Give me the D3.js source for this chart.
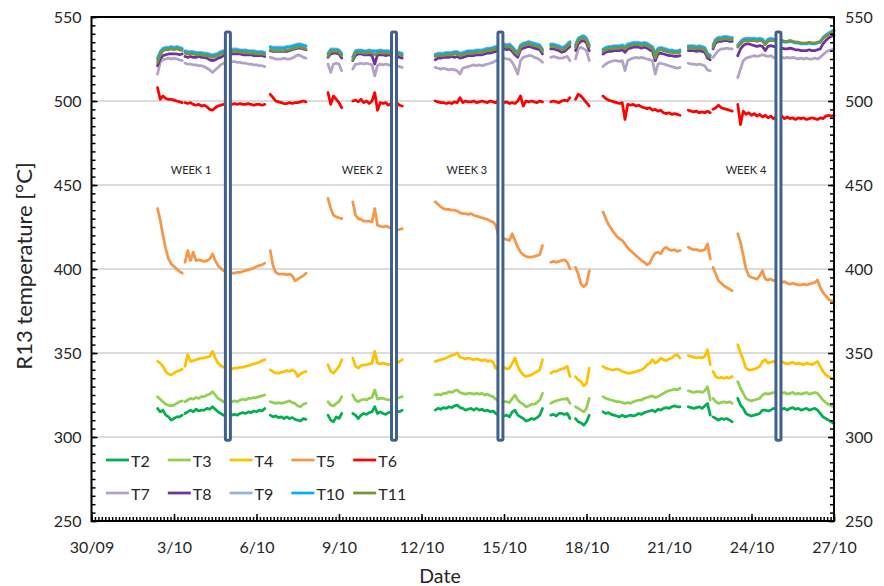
<!DOCTYPE html>
<html>
<head>
<meta charset="utf-8">
<script src="https://cdn.jsdelivr.net/npm/d3@7"></script>
<style>
  body { margin: 0; background: #fff; }
  svg { display: block; }
  text { font-family: Lato, "Noto Sans", sans-serif; fill: #262626; }
</style>
</head>
<body>
<svg id="chart" width="884" height="586"></svg>
<script>
// Logging segments: start day (days after 30/09 00:00), readings every 0.1 day
const segStart = [2.4, 3.4, 6.5, 8.6, 9.5, 12.5, 16.7, 17.6, 18.6, 21.7, 22.6, 23.5];
const step = 0.1;

const T2 = [
  [317,315,316,313,312,310,311,312,312,313],
  [314,315,316,315,316.5,315.5,316,316,317,316.5,318,316.5,315,314,313,312.5,313.5,313,313.5,313,314,314.5,314,315,314.5,315.5,315,316,315.5,317],
  [313,312,312.5,311.5,312,311,312,311,311.5,310.5,310,309.5,311,310.5],
  [313,310,309,312,311,314],
  [314,313,311,313,314,313.5,314.5,315,318,314,315,314,313.5,314.5,315,314,315.5,315,316],
  [316,317,316.5,317.5,317,318,317.5,318.5,319,317.5,317,316,316.5,317,316,317,316,316.5,315.5,316,315,315.5,314,313,313.5,312.5,313,312,315,316,313,312,311,309.5,310,311,310.5,311.5,313,317],
  [313,313.5,312.5,314,314,313.5,314,311],
  [311,309,308.5,307,309,313],
  [315,314,314.5,313.5,313,312.5,312,313,312,312.5,313,312.5,313,314,313.5,314.5,315,315.5,316,315,316.5,316,317,317.5,317,318,318.5,318,318],
  [318,317.5,317,317.5,318,317,318.5,320,313],
  [312,311,310,311,310.5,311,310,309],
  [323,319,317,314,313,312.5,313,313.5,314,316,316,315.5,316,317,316.5,317,316.5,317,316,317,317.5,316.5,317,316,316.5,317,316,316.5,317,316,314,312,311,310,309,308]
];
const T3 = [
  [324,322.5,321,319.5,319,318.5,319,320,321,321.5],
  [321,322,323,322.5,323.5,323,324,324,325,325.5,327,325,323,322,321,320.5,321,321,321.5,321,322,322.5,322,323,323,323.5,323.5,324,324.5,325],
  [321,320.5,320,320.5,320,320.5,321,321.5,320.5,320,318.5,318,319.5,320],
  [321,319,318.5,320,321,324],
  [325,322,321,322,322.5,322,323,323.5,328,322.5,323,323,322.5,322,322.5,322,323,323.5,324],
  [325,325.5,325,326,326,327,326.5,327.5,328,326.5,326,325.5,326,326,325.5,326,325.5,326,325,325.5,324.5,324,322.5,321.5,321.5,321,321,320.5,323,325,322,320.5,319.5,318,318.5,319.5,319.5,320.5,322,326],
  [320,321,321.5,322,322.5,322.5,323,320],
  [318,317,316,315,317,323],
  [324,323,322.5,322,321.5,321,321,320.5,320,320.5,320,321,321.5,322,322,323,323.5,324,324.5,323.5,324,325,326,327,327.5,328,328.5,328,329],
  [327.5,327,326.5,327,327,326.5,327.5,330,322],
  [323,321,320,320.5,321,320.5,321,320],
  [333,329,326,323,322,321.5,322,322.5,323,325,326,325.5,326,326.5,326,326.5,326,326.5,325.5,326,326.5,325.5,326,325.5,326,326.5,325.5,326,326.5,326,324,322,320.5,319.5,318.5,318]
];
const T4 = [
  [345,344,342,339,337.5,337,338,339,339.5,340.5],
  [342,349,345,345.5,346,346.5,347,347,347.5,348,351,347,344,342.5,341.5,341,340.5,340.5,341,341,341.5,341.5,342,342.5,343,343.5,344,344.5,345.5,346],
  [340,339,338,338,338.5,339,339.5,339,340,339,336,337.5,338.5,339],
  [343,339,338,340,342,346],
  [347,342,341,342.5,343,343,343.5,344,351,344,343.5,344,343.5,343,343.5,343,344,345,346],
  [345,345.5,346,346.5,347,348,348.5,349,350,347.5,347,346.5,347,346.5,346,346.5,346,345.5,346,345,345.5,344.5,341,340.5,341,341.5,340.5,341,344,347,342,339,337,336,336.5,337,338,339,340,346],
  [338,339,339,340,340.5,341,342,336],
  [336,334,333,330.5,332,341],
  [342,341,340.5,340,340,340.5,340,339,338.5,338,338,338.5,339,339.5,340,341,343,344,346,344,345,347,346,345.5,346.5,347,348.5,349,347],
  [348.5,348,347.5,347,347.5,347,348,352,343],
  [339,336,335,335.5,335,335.5,335,336],
  [355,350,346,341,340,340,340.5,341,342,345,346,344,344.5,345,344,344.5,345,344,343.5,344,344.5,343.5,344,343.5,343,344,343.5,343,344,345,342,339,337,336,335,334]
];
const T5 = [
  [436,429,420,412,406,403,401.5,400,398.5,397.5],
  [404,411,405,410,405,405.5,405,404.5,405,406,409,405,402,400.5,399,398,397.5,397.5,397.5,398,398,398.5,399,399.5,400,400.5,401.5,402,402.5,403.5],
  [411,402,398,397,397,397,396.5,397,396,393,394,395,396,397.5],
  [442,436,432,431,430.5,430],
  [440,432,430,429.5,428.5,428.5,428.5,428,436,426,425.5,425,425.5,425,424,423.5,423.5,423.5,424],
  [440,438.5,437,436,435.5,435.5,435,435,434.5,433.5,433,433,432.5,433,432,431.5,431,430.5,430,429.5,428.5,428,426,420,419,418,417.5,417,421,417,413,410,408.5,407.5,407,407,407.5,408,408.5,414],
  [404,404.5,404,404.5,405,405.5,404,400],
  [401,397,391,389.5,391,399],
  [434,430,426.5,424,421.5,419.5,418,417,415,412.5,411,409.5,408,406.5,405,404,402.5,403.5,407,409.5,410,409,412,413,411.5,411,411.5,410.5,411],
  [413,412,411.5,411.5,411,411,411.5,415,406],
  [401,397,393,391.5,390,389,388,387],
  [421,416,408,400,396,395,394.5,394,396,399,394,393.5,394,393,393.5,393,392,392.5,391.5,391,391.5,391,390.5,390.5,391,390.5,391,391.5,392,393.5,389,386,384,382,381,381]
];
const T6 = [
  [508,501,503,501.5,501,501,500.5,500,499.5,499],
  [499,498.5,499,498,497.5,498,497,497.5,496.5,495,494.5,496,497,497.5,498,498.5,498.5,498,498.5,498,498.5,498,498,498.5,498,497.5,498,498,497.5,498],
  [504,502,500,499.5,499,498.5,498.5,499,498.5,499,499,499.5,500,499.5],
  [505,498,503,501,499,496],
  [500,500.5,499.5,501,499,500,498.5,500,505,494.5,499,498.5,499,497.5,498.5,498,499,497.5,497],
  [500,499.5,499,499,498.5,499,498.5,499.5,499,502,499,500,499.5,499.5,500,499,499.5,500,499.5,499,500,499.5,499,500.5,499.5,499,499.5,498.5,499,498.5,500,503,497,500,499.5,500,499.5,499,500,499.5],
  [499.5,500,499.5,499,500,500.5,500,502],
  [501,504,503,501,499,497],
  [503,501.5,500.5,500,499.5,499,498.5,499,489,498,497.5,498,497,497.5,496.5,496,495.5,496,494.5,495,494,494.5,493,492.5,493,492,492.5,492,491.5],
  [494.5,494,493.5,494,493,493.5,493,494,493],
  [495,496,497.5,496,495.5,495,494.5,494],
  [498,486,494,492,493,491.5,492.5,491,492,490.5,491.5,490,491,489.5,490.5,490,491,489.5,490.5,489.5,490,489,490,489.5,490,489,489.5,490,489.5,489,490,489.5,491,491.5,491,491.5]
];
const T7 = [
  [516,523,524.5,525,525.5,525,525.5,525,524.5,524],
  [522.5,522,522,521.5,521.5,521,521,520.5,519.5,518.5,517,518.5,520,521.5,522.5,523,523.5,523.5,523.5,523,523,522.5,522.5,522,522,521.5,521.5,521,521,520.5],
  [526,525.5,525,525,525,525.5,525,525,525.5,526.5,527.5,527,526,525.5],
  [522,517,522,522.5,522,518],
  [519,522,522,522.5,522,522.5,522,521.5,515,521,522,521.5,522,521.5,521,521.5,521,520.5,520],
  [520,519.5,519,519.5,519,518.5,519,518.5,518,516,519.5,520,520.5,521,521.5,521,521.5,521,521.5,522,522.5,523,524,524.5,525,525.5,525,525,523,520,516,524,526,526.5,527,527,526,525.5,524.5,523],
  [526,526.5,526,525.5,525.5,526,526.5,524],
  [525,531,532,531,530,524],
  [520.5,522,523,523.5,524,524,523.5,524,518,524,525,525.5,526,525.5,526,525.5,525,524.5,524,516,522,522.5,522,521.5,521,520.5,520,519.5,520],
  [522.5,522,522,521.5,522,521.5,521,518.5,518],
  [526,528,530,531,531,531.5,531,531],
  [514,519,524,525.5,526,526.5,527,526.5,527,527.5,527,526.5,527,526,525.5,526,526,525.5,526,525.5,526,525.5,525,525.5,525,525.5,525,525,525.5,525,526,527.5,529,530,530.5,531]
];
const T8 = [
  [521,525,527,527.5,528,528,528,528,527.5,528],
  [526.5,526,526.5,526,526,526.5,526,526,525.5,524.5,524,524.5,525.5,526,527,527.5,528,528,528,528,528,527.5,527.5,527.5,527.5,527,527,527,527,526.5],
  [530,529.5,529.5,529.5,529.5,529.5,529.5,530,530.5,531,531.5,531.5,531,530.5],
  [526,528,528.5,528.5,528,525.5],
  [524,527,528,528,527.5,527.5,527.5,527,522,527.5,527.5,527.5,527,527.5,527,527,526.5,526,525.5],
  [524.5,525.5,525.5,526,526,526,526.5,526,526.5,525.5,526,526.5,527,527,527,527.5,527.5,527.5,528,528.5,528.5,529,529.5,530,530.5,531,530.5,531,529.5,527.5,526,530.5,531.5,532,532.5,532,531.5,531,530.5,528],
  [531,531,530.5,530,529,529.5,531,532.5],
  [530,534,535.5,536,534.5,530],
  [528,529,529.5,529.5,530,530,530,530.5,529,531,531.5,532,532,532,531.5,532,531.5,530.5,529.5,524,528,528.5,528,527.5,527,527,526.5,526.5,527],
  [530,530,530,529.5,530,529.5,529,525.5,524.5],
  [531,534.5,535.5,535.5,536,536,535.5,535.5],
  [527,531,533,534,534,533.5,533,532.5,533,532.5,530,532.5,533,532.5,532,531.5,531.5,531,531,531.5,531,530.5,530.5,530,530,530,530.5,530,530,530.5,531,534,536,537.5,538.5,539]
];
const T9 = [
  [525.5,529.5,531.5,532,532,532.5,532,532.5,532,531.5],
  [530,529.5,529.5,529.5,529,529,529,528.5,528.5,528,527.5,528,528.5,529.5,530,530.5,531,531,531,531,530.5,530.5,530.5,530,530,530,529.5,529.5,529.5,529],
  [532.5,532,532,532,532,532,532.5,532.5,533,533.5,534,534,533.5,533],
  [528.5,531,531,531,530.5,528.5],
  [526.5,530,530.5,530.5,530,530,530.5,530,530,530,530.5,530,530,530,529.5,529.5,529.5,529,528.5],
  [528,528.5,528.5,528.5,529,529,529,529.5,529.5,528.5,529,529.5,530,530,530,530.5,530.5,530.5,531,531.5,531.5,532,532.5,533,533.5,534,533.5,534,532.5,530.5,529,533.5,534.5,535,535.5,535,534.5,534,533.5,531],
  [534,534,533.5,533,532,532.5,534,535.5],
  [533.5,537.5,538.5,539,537.5,533.5],
  [531,532,532.5,532.5,533,533,533,533.5,532.5,534,534.5,535,535,535,534.5,535,534.5,533.5,532.5,528.5,531.5,532,531.5,531,530.5,530.5,530,530,530.5],
  [533,533,533,532.5,533,532.5,532,528.5,527.5],
  [533.5,537,538,538,538.5,538.5,538,538],
  [533.5,535.5,537,537.5,537.5,537.5,537.5,537,537.5,537,535,537,537.5,537,536.5,536,536,535.5,535.5,536,535.5,535,535,534.5,534.5,534.5,535,534.5,534.5,535,535.5,538,539.5,540.5,541.5,542.5]
];
const T10 = [
  [525,529,531,531.5,531.5,532,531.5,532,531.5,531],
  [529.5,529,529,529,528.5,528.5,528.5,528,528,527.5,527,527.5,528,529,529.5,530,530.5,530.5,530.5,530.5,530,530,530,529.5,529.5,529.5,529,529,529,528.5],
  [532,531.5,531.5,531.5,531.5,531.5,532,532,532.5,533,533.5,533.5,533,532.5],
  [528,530.5,530.5,530.5,530,528],
  [526,529.5,530,530,529.5,529.5,530,529.5,529.5,529.5,530,529.5,529.5,529.5,529,529,529,528.5,528],
  [527.5,528,528,528,528.5,528.5,528.5,529,529,528,528.5,529,529.5,529.5,529.5,530,530,530,530.5,531,531,531.5,532,532.5,533,533.5,533,533.5,532,530,528.5,533,534,534.5,535,534.5,534,533.5,533,530.5],
  [533.5,533.5,533,532.5,531.5,532,533.5,535],
  [533,537,538,538.5,537,533],
  [530.5,531.5,532,532,532.5,532.5,532.5,533,532,533.5,534,534.5,534.5,534.5,534,534.5,534,533,532,528,531,531.5,531,530.5,530,530,529.5,529.5,530],
  [532.5,532.5,532.5,532,532.5,532,531.5,528,527],
  [533,536.5,537.5,537.5,538,538,537.5,537.5],
  [533,535,536.5,537,537,537,537,536.5,537,536.5,534.5,536.5,537,536.5,536,535.5,535.5,535,535,535.5,535,534.5,534.5,534,534,534,534.5,534,534,534.5,535,537.5,539,540,541,542]
];
const T11 = [
  [523,527.5,530,530.5,530.5,531,530.5,531,530.5,530],
  [528.5,528,528,528,527.5,527.5,527.5,527,527,526.5,526,526.5,527,528,528.5,529,529.5,529.5,529.5,529.5,529,529,529,528.5,528.5,528.5,528,528,528,527.5],
  [530.5,530,530,530,530,530,530.5,530.5,531,531.5,532,532,531.5,531],
  [526.5,529.5,529.5,529.5,529,527],
  [524.5,528.5,529,529,528.5,528.5,529,528.5,527.5,528.5,529,528.5,528.5,528.5,528,528,528,527.5,527],
  [526.5,527,527,527,527.5,527.5,527.5,528,528,527,527.5,528,528.5,528.5,528.5,529,529,529,529.5,530,530,530.5,531,531.5,532,532.5,532,532.5,531,529,527.5,532,533,533.5,534,533.5,533,532.5,532,529.5],
  [532.5,532.5,532,531.5,530.5,531,532.5,534],
  [532,536,537,537.5,536,532],
  [529.5,530.5,531,531,531.5,531.5,531.5,532,531,532.5,533,533.5,533.5,533.5,533,533.5,533,532,531,525.5,530,530.5,530,529.5,529,529,528.5,528.5,529],
  [531.5,531.5,531.5,531,531.5,531,530.5,527,526],
  [532,535.5,536.5,536.5,537,537,536.5,536.5],
  [532,534,535.5,536,536,536,536,535.5,536,535.5,533.5,535.5,536,536,536,536,536,535.5,535.5,536,535.5,535,535,534.5,534.5,534.5,535,534.5,534.5,535,535,537,538.5,539.5,540.5,541.5]
];

const seriesNames = ["T2", "T3", "T4", "T5", "T6", "T7", "T8", "T9", "T10", "T11"];
const seriesValues = [T2, T3, T4, T5, T6, T7, T8, T9, T10, T11];
const seriesColors = ["#00b050", "#92d050", "#ffc000", "#f79646", "#ff0000",
                      "#b3a2c7", "#7030a0", "#95b3d7", "#00b0f0", "#77933c"];

// Week boundary markers (day) and their temperature span
const weekMarkDays = [4.96, 11.0, 14.87, 24.98];
const weekMarkRange = [298, 541];
const weekLabelText = ["WEEK 1", "WEEK 2", "WEEK 3", "WEEK 4"];
const weekLabelDays = [3.62, 9.84, 13.65, 23.8];
const weekLabelTemp = 459;

// Axes
const xTickDays = [0, 3, 6, 9, 12, 15, 18, 21, 24, 27];
const xTickLabels = ["30/09", "3/10", "6/10", "9/10", "12/10", "15/10", "18/10", "21/10", "24/10", "27/10"];
const yTicks = [250, 300, 350, 400, 450, 500, 550];
const yGrid = [300, 350, 400, 450, 500];

const svg = d3.select("#chart");
const L = 91.5, R = 834, T = 17, B = 521;
const x = d3.scaleLinear().domain([0, 27]).range([L, R]);
const y = d3.scaleLinear().domain([250, 550]).range([B, T]);

// gridlines
svg.append("g").selectAll("line").data(yGrid).join("line")
  .attr("x1", L).attr("x2", R)
  .attr("y1", d => y(d)).attr("y2", d => y(d))
  .attr("stroke", "#d0d0d0").attr("stroke-width", 1.5);

// series lines
const line = d3.line().x(d => x(d[0])).y(d => y(d[1])).curve(d3.curveLinear);
const gLines = svg.append("g").attr("fill", "none")
  .attr("stroke-width", 2.75).attr("stroke-linejoin", "round").attr("stroke-linecap", "round");
seriesValues.forEach((segs, si) => {
  segs.forEach((vals, k) => {
    const pts = vals.map((v, i) => [segStart[k] + i * step, v]);
    gLines.append("path").attr("d", line(pts)).attr("stroke", seriesColors[si]);
  });
});

// week marker boxes
svg.append("g").selectAll("rect").data(weekMarkDays).join("rect")
  .attr("x", d => x(d) - 2.5).attr("width", 5)
  .attr("y", y(weekMarkRange[1])).attr("height", y(weekMarkRange[0]) - y(weekMarkRange[1]))
  .attr("rx", 1.5)
  .attr("fill", "#fff").attr("stroke", "#41618d").attr("stroke-width", 3);

svg.append("g").selectAll("text").data(weekLabelText).join("text")
  .attr("x", (d, i) => x(weekLabelDays[i])).attr("y", y(weekLabelTemp))
  .attr("text-anchor", "middle").attr("dominant-baseline", "central")
  .attr("font-size", 11).text(d => d);

// axes with inward ticks
const yMinor = d3.range(250, 551, 5);
const xMinor = d3.range(0, 27.001, 0.125);
svg.append("g").attr("transform", `translate(${L},0)`)
  .call(d3.axisLeft(y).tickValues(yMinor).tickSizeInner(-4).tickSizeOuter(0).tickFormat(""));
svg.append("g").attr("transform", `translate(${R},0)`)
  .call(d3.axisRight(y).tickValues(yMinor).tickSizeInner(-4).tickSizeOuter(0).tickFormat(""));
svg.append("g").attr("transform", `translate(0,${B})`)
  .call(d3.axisBottom(x).tickValues(xMinor).tickSizeInner(-4).tickSizeOuter(0).tickFormat(""));

const yl = svg.append("g").attr("transform", `translate(${L},0)`)
  .call(d3.axisLeft(y).tickValues(yTicks).tickSizeInner(-6).tickSizeOuter(0).tickPadding(10));
const yr = svg.append("g").attr("transform", `translate(${R},0)`)
  .call(d3.axisRight(y).tickValues(yTicks).tickSizeInner(-6).tickSizeOuter(0).tickPadding(11));
const xb = svg.append("g").attr("transform", `translate(0,${B})`)
  .call(d3.axisBottom(x).tickValues(xTickDays).tickSizeInner(-7).tickSizeOuter(0).tickPadding(21)
    .tickFormat((d, i) => xTickLabels[i]));
svg.selectAll(".tick line").attr("stroke", "#000").attr("stroke-width", 1.5);
svg.selectAll(".domain").remove();
[yl, yr, xb].forEach(g => g.selectAll("text").attr("font-size", 16).attr("fill", "#262626")
  .style("font-family", "Lato, 'Noto Sans', sans-serif"));

// plot frame
svg.append("rect").attr("x", L).attr("y", T).attr("width", R - L).attr("height", B - T)
  .attr("fill", "none").attr("stroke", "#000").attr("stroke-width", 2);

// legend, two rows of five
const legend = svg.append("g");
seriesNames.forEach((name, i) => {
  const col = i % 5, row = Math.floor(i / 5);
  const lx = 106 + col * 61.8, ly = 460 + row * 33;
  legend.append("line").attr("x1", lx).attr("x2", lx + 23).attr("y1", ly).attr("y2", ly)
    .attr("stroke", seriesColors[i]).attr("stroke-width", 2.75);
  legend.append("text").attr("x", lx + 25).attr("y", ly).attr("dominant-baseline", "central")
    .attr("font-size", 16).text(name);
});

// axis titles
svg.append("text").attr("transform", "translate(23,266) rotate(-90)")
  .attr("text-anchor", "middle").attr("dominant-baseline", "central")
  .attr("font-size", 22).text("R13 temperature [°C]");
svg.append("text").attr("x", 440).attr("y", 583)
  .attr("text-anchor", "middle").attr("font-size", 19.5).text("Date");
</script>
</body>
</html>
